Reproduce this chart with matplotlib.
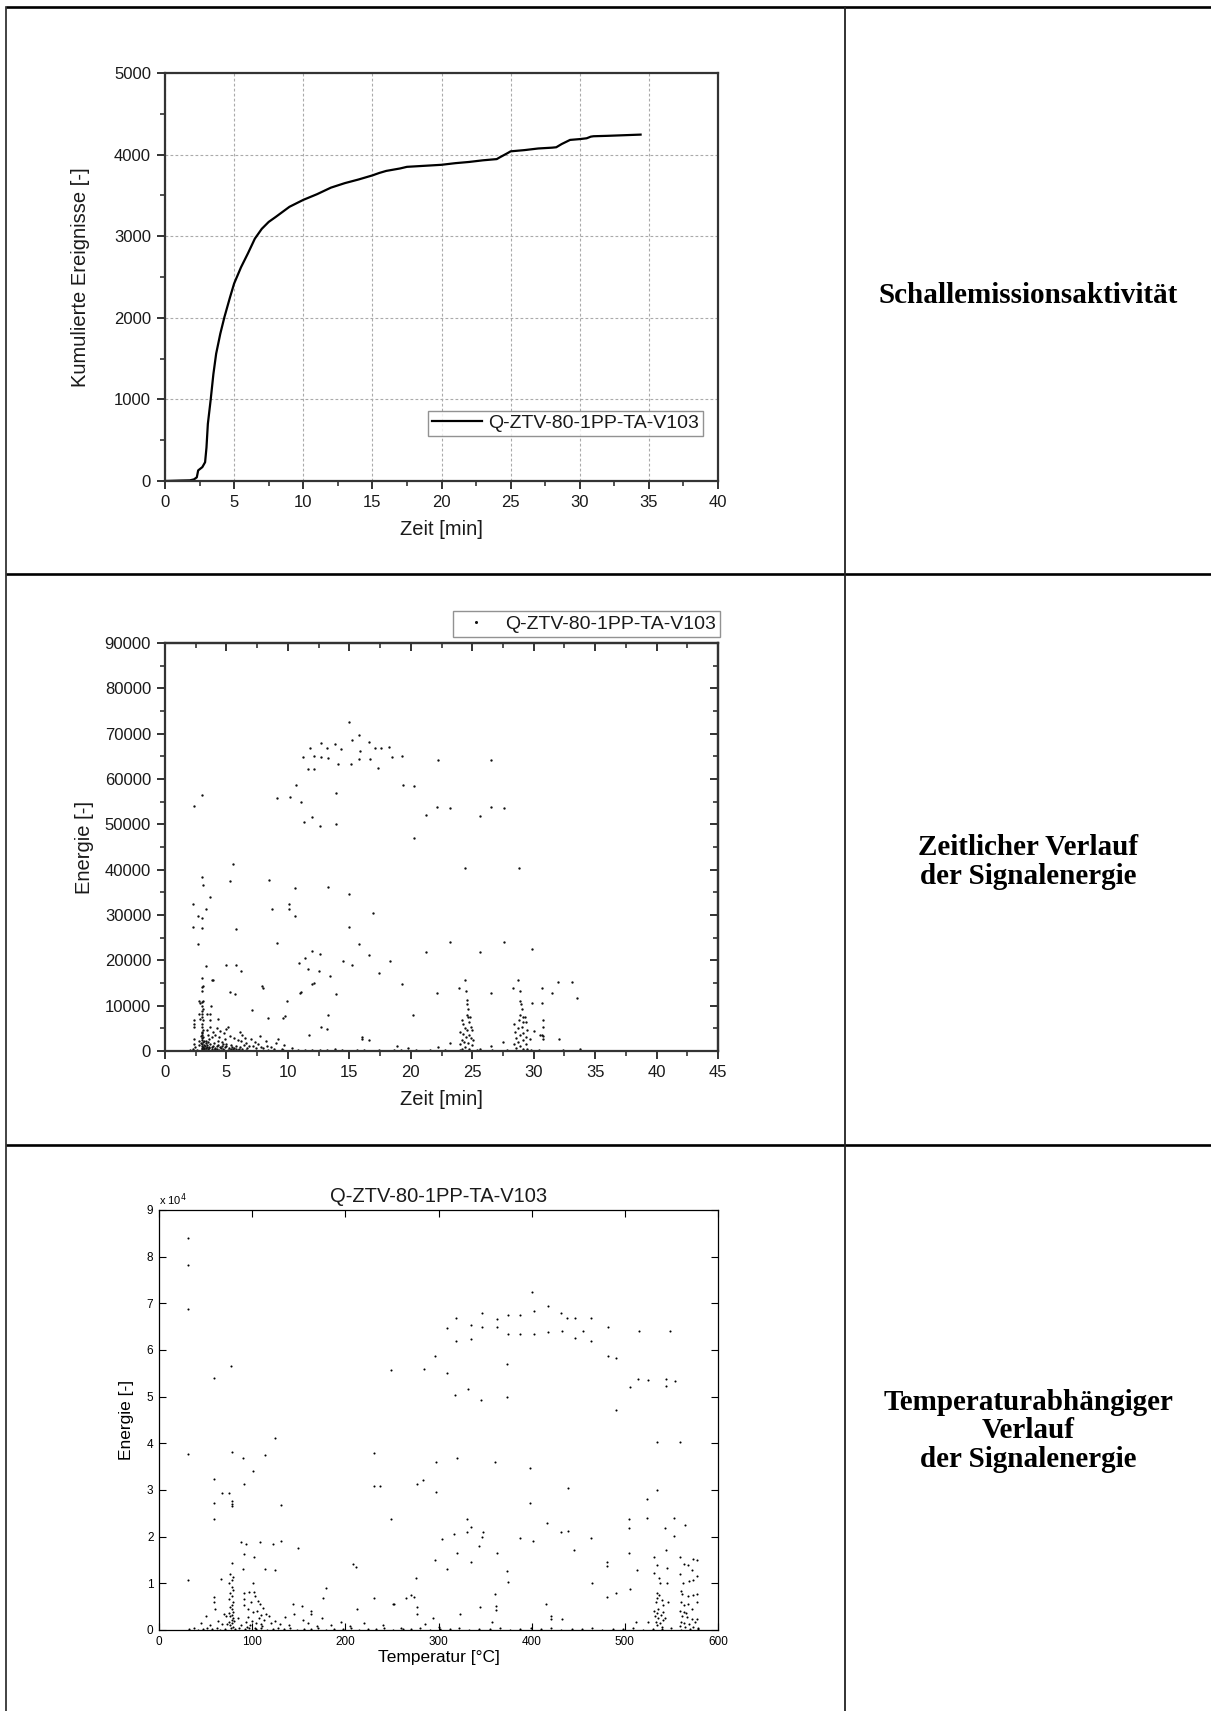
import numpy as np
import matplotlib
matplotlib.use("Agg")
import matplotlib.pyplot as plt
from matplotlib.ticker import MultipleLocator

plt.rcParams['font.family'] = ['Liberation Sans', 'DejaVu Sans']

SERIES = "Q-ZTV-80-1PP-TA-V103"

# ---------------- cumulative acoustic emission events ----------------
t_cum = [0, 1.0, 1.8, 2.1, 2.3, 2.4, 2.7, 2.9, 3.0, 3.1, 3.3, 3.5, 3.7, 4.0, 4.3,
         4.7, 5.0, 5.5, 6.0, 6.5, 7.0, 7.5, 8.0, 9.0, 10, 11, 12, 13, 14, 15,
         15.5, 16, 17, 17.5, 18, 19, 20, 21, 22, 23, 24, 24.2, 24.8, 25, 26, 27,
         28, 28.3, 28.7, 29.3, 30, 30.5, 30.8, 31, 32, 34.4]
events_cum = [0, 5, 8, 20, 45, 130, 170, 230, 410, 700, 990, 1310, 1560, 1805,
              2010, 2250, 2420, 2620, 2790, 2970, 3090, 3175, 3235, 3360, 3445,
              3515, 3595, 3650, 3695, 3745, 3775, 3800, 3830, 3850, 3855, 3865,
              3875, 3895, 3910, 3930, 3945, 3965, 4020, 4040, 4055, 4075, 4085,
              4090, 4130, 4180, 4190, 4200, 4220, 4225, 4230, 4245]

# ---------------- signal energy over time (min, energy) ----------------
energy_time_sparse = [
    (15.0, 72600), (15.8, 69800), (11.8, 66800), (12.7, 68000), (13.2, 66800),
    (13.8, 67800), (14.3, 66700), (15.2, 68700), (15.9, 66100), (16.6, 68100),
    (17.1, 66800), (17.6, 66800), (18.2, 67000), (18.5, 64900), (19.3, 65100),
    (11.2, 64900), (12.1, 65100), (12.7, 64900), (13.3, 64700), (14.1, 63300),
    (15.1, 63300), (15.8, 64400), (16.7, 64400), (17.3, 62500), (11.6, 62100),
    (12.1, 62300), (22.2, 64100), (26.5, 64100), (19.4, 58700), (20.3, 58500),
    (10.7, 58700), (13.9, 57000), (2.4, 54100), (3.0, 56400), (9.1, 55800),
    (10.2, 56000), (11.1, 54900), (22.1, 53900), (23.2, 53500), (26.5, 53800),
    (27.6, 53600), (21.2, 52100), (25.6, 51900), (11.3, 50500), (12.0, 51600),
    (12.6, 49700), (13.9, 50100), (20.3, 46900), (24.4, 40400), (28.8, 40400),
    (5.5, 41200), (5.3, 37600), (3.0, 38300), (3.1, 36600), (3.7, 34000),
    (8.5, 37800), (10.6, 35900), (13.3, 36100), (15.0, 34700), (2.3, 32500),
    (10.1, 32500), (10.1, 31300), (10.6, 29800), (3.3, 31300), (2.7, 29800),
    (3.0, 29400), (8.7, 31300), (16.9, 30500), (2.3, 27300), (3.0, 27100),
    (5.8, 26900), (15.0, 27300), (2.7, 23700), (9.1, 23900), (23.2, 24100),
    (27.6, 24100), (15.8, 23500), (12.0, 22000), (21.2, 21800), (25.6, 21800),
    (29.9, 22600), (12.6, 21400), (10.9, 19500), (14.5, 19800), (15.2, 19000),
    (16.6, 21100), (18.3, 19800), (3.3, 18800), (5.0, 19000), (5.8, 19000),
    (6.2, 17600), (11.6, 18000), (12.5, 17600), (17.4, 17100), (13.4, 16500),
    (12.0, 14800), (19.3, 14800), (3.8, 15700), (3.1, 14400), (8.0, 13900),
    (7.9, 14300), (11.0, 12900), (5.3, 13100), (5.7, 12500), (22.1, 12900),
    (26.5, 12900), (30.7, 13900), (31.5, 12900), (32.0, 15300), (33.1, 15300),
    (33.5, 11800), (29.9, 10600), (30.7, 10600), (9.9, 11100), (20.2, 8000),
    (13.3, 7900), (7.1, 9100), (8.4, 7200), (9.6, 7200), (9.8, 7700),
    (12.7, 5200), (13.2, 4900), (5.0, 4900), (4.3, 7000), (16.0, 3000),
    (16.6, 2400), (30.7, 3600), (32.1, 2600), (11.4, 20600), (12.1, 14900),
    (13.9, 12600), (11.1, 13000), (11.7, 3500), (18.9, 1000), (16.0, 2700),
    (30.8, 6800), (30.8, 5400), (30.8, 3200), (30.8, 2700), (30.0, 4400),
    (30.5, 3500), (29.7, 2700), (27.5, 2000), (33.8, 500), (26.5, 1000),
    (25.6, 500), (23.2, 1800),
]
energy_time_burst_early = [
    (3.0, 16200), (3.05, 14100), (3.0, 13200), (3.1, 11000), (3.0, 10800),
    (3.05, 9900), (3.1, 9300), (3.0, 8900), (3.05, 8200), (3.0, 7500),
    (3.1, 6800), (3.0, 6000), (3.05, 5300), (3.1, 4600), (3.0, 4200),
    (3.05, 3900), (3.0, 3500), (3.1, 3100), (3.05, 2800), (3.0, 2400),
    (3.1, 2000), (3.0, 1600), (3.05, 1200), (3.1, 900), (3.0, 600),
    (3.05, 400), (3.1, 250), (2.95, 1800), (2.95, 3300), (3.15, 2200),
    (3.15, 1400), (3.15, 700), (2.4, 6900), (2.4, 6000), (2.4, 5400),
    (2.4, 2700), (2.4, 1600), (2.45, 900), (2.3, 400), (2.8, 11000),
    (2.85, 10600), (2.8, 8200), (2.85, 7100), (2.8, 2100), (2.75, 1300),
    (3.9, 15600), (3.75, 9900), (3.4, 8200), (3.7, 8200), (3.7, 6800),
    (3.65, 5400), (3.4, 4700), (3.9, 4200), (3.5, 3500), (3.8, 3100),
    (3.6, 2600), (3.3, 2200), (3.5, 1900), (3.7, 1500), (3.4, 1300),
    (3.9, 1100), (3.6, 800), (3.3, 600), (3.8, 500), (3.5, 350),
    (4.2, 5000), (4.5, 4400), (4.8, 3900), (4.1, 3600), (4.4, 3000),
    (4.9, 2700), (5.1, 5200), (5.3, 3400), (5.6, 2900), (5.9, 2400),
    (4.3, 2300), (4.6, 2000), (4.0, 1800), (4.7, 1600), (5.0, 1500),
    (5.4, 1300), (5.8, 1200), (4.2, 1100), (4.5, 900), (4.9, 800),
    (5.2, 700), (5.6, 600), (6.0, 500), (4.1, 400), (4.4, 300),
    (4.8, 250), (5.1, 200), (5.5, 350), (5.9, 250), (6.1, 4200),
    (6.3, 3600), (6.5, 2900), (6.2, 2100), (6.6, 1700), (6.4, 1300),
    (6.8, 1000), (6.1, 800), (6.7, 600), (6.3, 400), (7.0, 2600),
    (7.3, 2000), (7.6, 1500), (7.2, 1100), (7.8, 900), (7.4, 700),
    (8.0, 600), (8.3, 1200), (8.6, 800), (8.9, 500), (9.2, 2700),
    (9.0, 1800), (9.5, 400), (7.7, 3400), (8.2, 2300), (9.7, 1400),
    (10.3, 700), (10.8, 300), (3.2, 500), (3.3, 300), (3.45, 900),
    (3.55, 600), (3.25, 1000), (3.35, 1700), (3.85, 800), (4.05, 700),
    (4.25, 500), (4.35, 1400), (4.55, 600), (4.65, 1200), (4.75, 400),
    (4.95, 1100), (5.35, 500), (5.45, 900), (5.75, 400),
]
energy_time_burst_24 = [
    (24.40, 15600), (23.94, 14000), (24.48, 13200), (24.54, 11200), (24.59, 10300),
    (24.67, 9300), (24.54, 7900), (24.67, 7600), (24.81, 7400), (24.13, 6800),
    (24.21, 6000), (24.76, 6400), (24.86, 5400), (24.40, 5100), (24.59, 4600),
    (24.95, 4600), (23.99, 4200), (24.27, 3800), (24.76, 3500), (24.48, 3100),
    (24.86, 2900), (24.13, 2500), (25.03, 2400), (24.32, 2000), (24.67, 1800),
    (23.99, 1500), (24.95, 1300), (24.40, 900), (24.76, 500), (24.13, 500),
]
energy_time_burst_29 = [
    (28.75, 15600), (28.29, 14000), (28.89, 13200), (28.89, 11000), (28.97, 10300),
    (29.02, 9300), (28.89, 7900), (29.10, 7500), (29.29, 7400), (28.83, 6800),
    (29.16, 6400), (29.38, 6400), (28.40, 6000), (29.02, 5400), (28.75, 5100),
    (29.48, 4700), (28.48, 4200), (29.10, 4000), (28.89, 3500), (29.38, 3100),
    (28.56, 2900), (29.10, 2400), (28.75, 2000), (28.40, 1600), (29.38, 1500),
    (28.89, 1000), (28.56, 700), (29.16, 500), (29.48, 500),
]
energy_time_low = [
    (2.0, 200), (2.2, 100), (2.6, 300), (3.2, 150), (3.6, 100), (4.0, 150),
    (4.6, 100), (5.3, 120), (6.0, 80), (6.6, 150), (7.1, 100), (7.7, 60),
    (8.4, 120), (9.0, 80), (9.6, 150), (10.2, 100), (10.8, 70), (11.4, 200),
    (12.0, 120), (12.6, 300), (13.2, 150), (13.8, 400), (14.4, 200), (15.0, 100),
    (15.6, 300), (16.2, 150), (16.8, 100), (17.4, 200), (18.0, 80), (18.6, 300),
    (19.2, 150), (19.8, 600), (20.4, 200), (21.0, 100), (21.6, 300), (22.2, 900),
    (22.8, 150), (23.4, 100), (24.0, 200), (25.4, 150), (26.0, 100), (26.6, 300),
    (27.2, 80), (27.8, 150), (28.2, 100), (29.8, 200), (30.4, 150), (31.0, 100),
    (31.6, 80), (32.4, 150), (33.0, 100), (33.5, 60),
]

# ---------------- signal energy over temperature (degC, energy x 1e4) ----------------
energy_temp_sparse = [
    (30.8, 8.39), (30.8, 7.83), (30.8, 6.88), (30.8, 3.77), (30.8, 1.07),
    (58.5, 5.41), (58.5, 3.24), (59.4, 2.73), (59.4, 2.37), (77.7, 5.65),
    (78, 3.82), (67.3, 2.94), (75.1, 2.94), (78, 2.77), (78, 2.71), (78, 2.66),
    (90.5, 3.68), (91.6, 3.13), (100.5, 3.41), (114, 3.76), (124.5, 4.12),
    (131, 2.68), (88, 1.89), (93, 1.84), (91.6, 1.62), (102, 1.56), (108, 1.89),
    (122, 1.84), (131, 1.91), (149, 1.76), (114, 1.31), (124.5, 1.29),
    (90.5, 1.31), (67, 1.09), (100.5, 1.0), (59.4, 0.70), (59.4, 0.59),
    (143.5, 0.55), (153, 0.51), (163, 0.41), (163, 0.34), (176, 0.68),
    (179, 0.89), (208.6, 1.41), (211, 1.34), (230.8, 3.79), (230.8, 3.08),
    (237, 3.08), (213, 0.44), (231, 0.69), (252, 0.55), (249, 2.37),
    (248.5, 5.57), (284, 5.59), (276.5, 3.13), (283.3, 3.21), (297, 3.59),
    (297, 2.96), (320, 3.69), (360.6, 3.61), (398.2, 3.48), (398.2, 2.73),
    (439, 3.04), (331, 2.37), (334.6, 2.2), (331, 2.09), (303.4, 1.96),
    (316.7, 2.06), (320, 1.66), (347.4, 2.11), (346.3, 2.0), (343.8, 1.8),
    (363.2, 1.64), (387.5, 1.98), (401.8, 1.91), (416.8, 2.3), (432, 2.11),
    (439, 2.13), (445.9, 1.71), (463.8, 1.98), (464.5, 1.0), (480.4, 1.46),
    (480.4, 1.38), (491, 0.8), (481, 0.71), (504.8, 2.37), (504.8, 2.18),
    (504.8, 1.64), (513.4, 1.29), (505.5, 0.87), (524.2, 2.81), (524.2, 2.39),
    (535, 4.03), (535, 2.99), (559.5, 4.03), (543, 2.18), (543.8, 1.71),
    (552.6, 2.39), (552.6, 2.02), (565, 2.26), (296.2, 1.49), (309.5, 1.31),
    (334.6, 1.46), (374, 1.27), (375, 1.02), (275.8, 1.12), (264.9, 0.68),
    (270.3, 0.75), (273.2, 0.70), (251.5, 0.55), (276.5, 0.50), (276.5, 0.34),
    (294.4, 0.25), (323, 0.34), (345, 0.49), (361, 0.77), (361.5, 0.51),
    (361.5, 0.43), (357, 0.18), (415.2, 0.56), (420.5, 0.29), (420.5, 0.23),
    (432.5, 0.23), (512.5, 0.18), (525, 0.18),
]
energy_temp_arc = [
    (400, 7.24), (418, 6.95), (402, 6.84), (432, 6.80), (438, 6.68), (446, 6.68),
    (464, 6.68), (455, 6.41), (464, 6.20), (446, 6.25), (418, 6.39), (433, 6.40),
    (402, 6.34), (387, 6.34), (375, 6.34), (375, 6.74), (387, 6.74), (363, 6.66),
    (347, 6.80), (335, 6.54), (347, 6.50), (363, 6.50), (319, 6.68), (309, 6.48),
    (335, 6.23), (319, 6.20), (482, 6.50), (482, 5.87), (491, 5.83), (515, 6.40),
    (548, 6.40), (296, 5.87), (309, 5.51), (373, 5.69), (514, 5.37), (525, 5.35),
    (544, 5.37), (554, 5.34), (506, 5.21), (544, 5.22), (318, 5.04), (332, 5.16),
    (346, 4.93), (373, 5.00), (491, 4.72),
]
energy_temp_burst_80 = [
    (78, 1.43), (76.2, 1.21), (79.8, 1.13), (78, 1.07), (75.1, 1.0), (78, 0.93),
    (79.8, 0.86), (76.2, 0.79), (78, 0.73), (75.1, 0.66), (79.8, 0.61), (78, 0.54),
    (76.2, 0.50), (78, 0.44), (79.8, 0.39), (75.1, 0.36), (78, 0.32), (76.2, 0.29),
    (79.8, 0.25), (78, 0.21), (75.1, 0.18), (78, 0.14), (76.2, 0.11), (79.8, 0.07),
    (77, 0.04), (73, 0.12), (81, 0.20), (72, 0.30),
]
energy_temp_burst_100 = [
    (91.6, 0.80), (91.6, 0.66), (91.6, 0.54), (97, 0.82), (102.3, 0.82), (95, 0.45),
    (99, 0.60), (103, 0.72), (105, 0.40), (108, 0.55), (110, 0.33), (112, 0.48),
    (96, 0.28), (100, 0.20), (104, 0.15), (107, 0.25), (109, 0.12), (113, 0.22),
    (115, 0.35), (93, 0.18), (101, 0.38), (106, 0.62), (118, 0.30), (120, 0.16),
    (98, 0.10), (111, 0.08), (94, 0.06), (103, 0.05),
]
energy_temp_scatter_low = [
    (45, 0.15), (50, 0.30), (55, 0.10), (60, 0.45), (63, 0.20), (68, 0.12),
    (70, 0.35), (85, 0.25), (88, 0.10), (125, 0.20), (130, 0.12), (135, 0.28),
    (140, 0.10), (145, 0.35), (155, 0.22), (160, 0.15), (170, 0.08), (175, 0.25),
    (185, 0.10), (195, 0.18), (205, 0.08), (220, 0.15), (240, 0.10), (260, 0.05),
    (285, 0.12), (300, 0.06),
]
energy_temp_burst_535 = [
    (531.3, 1.56), (534.9, 1.39), (531.3, 1.23), (537.0, 1.11), (537.7, 1.00),
    (534.2, 0.79), (537.0, 0.75), (534.9, 0.68), (539.5, 0.64), (533.4, 0.59),
    (541.3, 0.54), (535.9, 0.46), (531.3, 0.41), (540.6, 0.39), (534.2, 0.36),
    (538.4, 0.32), (532.4, 0.29), (535.9, 0.25), (541.3, 0.21), (533.4, 0.18),
    (537.7, 0.14), (534.9, 0.11), (539.5, 0.07), (544.9, 1.32), (544.9, 1.00),
    (546.7, 0.61), (543.1, 0.25),
]
energy_temp_burst_565 = [
    (559.2, 1.56), (563.5, 1.41), (568.1, 1.39), (573.5, 1.53), (577.1, 1.51),
    (571.7, 1.29), (577.1, 1.16), (573.5, 1.07), (569.2, 1.06), (562.1, 1.01),
    (559.2, 1.21), (559.9, 0.84), (561.0, 0.77), (568.1, 0.73), (573.5, 0.75),
    (577.1, 0.77), (559.9, 0.61), (563.5, 0.54), (568.1, 0.56), (571.7, 0.44),
    (577.1, 0.59), (559.2, 0.41), (563.5, 0.39), (565.6, 0.36), (561.0, 0.29),
    (566.4, 0.27), (571.7, 0.23), (577.1, 0.23), (559.9, 0.18), (563.5, 0.16),
    (569.2, 0.13), (575.3, 0.18), (559.2, 0.09), (564.6, 0.07), (573.5, 0.06),
    (578.9, 0.04),
]
energy_temp_low = [
    (32, 0.02), (38, 0.04), (42, 0.01), (47, 0.03), (52, 0.05), (57, 0.02),
    (62, 0.04), (66, 0.01), (71, 0.03), (82, 0.02), (86, 0.05), (92, 0.03),
    (97, 0.04), (104, 0.02), (110, 0.04), (116, 0.01), (122, 0.03), (128, 0.05),
    (134, 0.02), (141, 0.04), (148, 0.01), (156, 0.03), (163, 0.02), (171, 0.04),
    (179, 0.01), (188, 0.03), (197, 0.02), (206, 0.04), (215, 0.01), (224, 0.03),
    (233, 0.02), (242, 0.04), (251, 0.01), (262, 0.03), (271, 0.02), (280, 0.04),
    (291, 0.01), (302, 0.03), (312, 0.02), (322, 0.04), (333, 0.01), (344, 0.03),
    (355, 0.02), (366, 0.04), (377, 0.01), (388, 0.03), (399, 0.05), (410, 0.02),
    (421, 0.04), (432, 0.01), (443, 0.03), (454, 0.02), (465, 0.04), (476, 0.01),
    (487, 0.03), (498, 0.02), (509, 0.04), (520, 0.01), (530, 0.03), (540, 0.02),
    (550, 0.04), (560, 0.01), (570, 0.03), (578, 0.02),
]

row_captions = ["Schallemissionsaktivität",
                "Zeitlicher Verlauf\nder Signalenergie",
                "Temperaturabhängiger\nVerlauf\nder Signalenergie"]

W, H = 1211, 1711
fig = plt.figure(figsize=(W / 100, H / 100), dpi=100)


def fig_rect(left, top, right, bottom):
    return [left / W, 1 - bottom / H, (right - left) / W, (bottom - top) / H]


# table frame
frame = fig.add_axes([0, 0, 1, 1])
frame.set_xlim(0, W)
frame.set_ylim(H, 0)
frame.axis('off')
for yy in (7, 574, 1145):
    frame.plot([6, W], [yy, yy], color='black', lw=1.9, solid_capstyle='butt')
frame.plot([6, 6], [7, H], color='#222222', lw=1.2)
frame.plot([845, 845], [7, H], color='#222222', lw=1.3)

cap_y = [295, 862, 1431]
for txt, yy in zip(row_captions, cap_y):
    frame.text(1028, yy, txt, ha='center', va='center', fontsize=21,
               fontweight='bold', family=['Liberation Serif', 'DejaVu Serif'],
               linespacing=1.08, color='black')

axis_col = '#333333'
text_col = '#1a1a1a'


def origin_style(ax):
    for s in ax.spines.values():
        s.set_linewidth(1.6)
        s.set_color(axis_col)
    ax.tick_params(which='major', direction='out', length=6, width=1.4,
                   color=axis_col, labelsize=12, labelcolor=text_col, pad=4)
    ax.tick_params(which='minor', direction='out', length=3.5, width=1.2,
                   color=axis_col)


# ---- row 1: cumulative events ----
ax1 = fig.add_axes(fig_rect(165, 73, 718, 481))
ax1.plot(t_cum, events_cum, color='black', lw=1.6, label=SERIES)
ax1.set_xlim(0, 40)
ax1.set_ylim(0, 5000)
ax1.xaxis.set_major_locator(MultipleLocator(5))
ax1.xaxis.set_minor_locator(MultipleLocator(2.5))
ax1.yaxis.set_major_locator(MultipleLocator(1000))
ax1.yaxis.set_minor_locator(MultipleLocator(500))
origin_style(ax1)
ax1.grid(True, which='major', linestyle=(0, (2.5, 2)), color='#aaaaaa', lw=0.8)
ax1.set_axisbelow(True)
ax1.set_xlabel('Zeit [min]', fontsize=14.5, color=text_col, labelpad=7)
ax1.set_ylabel('Kumulierte Ereignisse [-]', fontsize=14.5, color=text_col, labelpad=17)
leg1 = ax1.legend(loc='lower right', bbox_to_anchor=(0.973, 0.11), borderaxespad=0,
                  fontsize=14, frameon=True, fancybox=False, borderpad=0.2,
                  handlelength=2.6, handletextpad=0.3)
leg1.get_frame().set_edgecolor('#777777')
leg1.get_frame().set_linewidth(1.0)
for t in leg1.get_texts():
    t.set_color(text_col)

# ---- row 2: energy over time ----
ax2 = fig.add_axes(fig_rect(165, 643, 718, 1051))
dot_kw = dict(linestyle='none', marker='o', ms=1.7, color='#111111', mec='none')
groups_time = [energy_time_sparse, energy_time_burst_early, energy_time_burst_24,
               energy_time_burst_29, energy_time_low]
for i, g in enumerate(groups_time):
    arr = np.array(g, dtype=float)
    ax2.plot(arr[:, 0], arr[:, 1], label=SERIES if i == 0 else None, **dot_kw)
ax2.set_xlim(0, 45)
ax2.set_ylim(0, 90000)
ax2.xaxis.set_major_locator(MultipleLocator(5))
ax2.xaxis.set_minor_locator(MultipleLocator(2.5))
ax2.yaxis.set_major_locator(MultipleLocator(10000))
ax2.yaxis.set_minor_locator(MultipleLocator(5000))
origin_style(ax2)
top2 = ax2.secondary_xaxis('top')
top2.xaxis.set_major_locator(MultipleLocator(5))
top2.xaxis.set_minor_locator(MultipleLocator(2.5))
right2 = ax2.secondary_yaxis('right')
right2.yaxis.set_major_locator(MultipleLocator(10000))
right2.yaxis.set_minor_locator(MultipleLocator(5000))
for sec in (top2, right2):
    sec.tick_params(which='major', direction='in', length=6, width=1.4, color=axis_col,
                    labeltop=False, labelright=False, labelbottom=False, labelleft=False)
    sec.tick_params(which='minor', direction='in', length=3.5, width=1.2, color=axis_col)
    for s in sec.spines.values():
        s.set_linewidth(1.6)
        s.set_color(axis_col)
ax2.set_xlabel('Zeit [min]', fontsize=14.5, color=text_col, labelpad=7)
ax2.set_ylabel('Energie [-]', fontsize=14.5, color=text_col, labelpad=8)
leg2 = ax2.legend(loc='lower right', bbox_to_anchor=(1.004, 1.015), borderaxespad=0,
                  fontsize=14, frameon=True, fancybox=False, borderpad=0.2,
                  handlelength=2.0, handletextpad=0.5, markerscale=1.3)
leg2.get_frame().set_edgecolor('#777777')
leg2.get_frame().set_linewidth(1.0)
for t in leg2.get_texts():
    t.set_color(text_col)

# ---- row 3: energy over temperature ----
ax3 = fig.add_axes(fig_rect(159, 1210, 718, 1630))
dot3_kw = dict(linestyle='none', marker='o', ms=1.5, color='black', mec='none')
groups_temp = [energy_temp_sparse, energy_temp_arc, energy_temp_burst_80,
               energy_temp_burst_100, energy_temp_scatter_low, energy_temp_burst_535,
               energy_temp_burst_565, energy_temp_low]
for g in groups_temp:
    arr = np.array(g, dtype=float)
    ax3.plot(arr[:, 0], arr[:, 1], **dot3_kw)
ax3.set_xlim(0, 600)
ax3.set_ylim(0, 9)
ax3.xaxis.set_major_locator(MultipleLocator(100))
ax3.yaxis.set_major_locator(MultipleLocator(1))
for s in ax3.spines.values():
    s.set_linewidth(0.9)
    s.set_color('black')
ax3.tick_params(direction='in', top=True, right=True, length=5, width=0.8,
                labelsize=8.5, pad=4)
ax3.set_title(SERIES, fontsize=14.5, pad=6, color=text_col)
ax3.text(0.0, 1.004, r'x 10$^4$', transform=ax3.transAxes, fontsize=8,
         ha='left', va='bottom')
ax3.set_xlabel('Temperatur [°C]', fontsize=12.5, labelpad=2)
ax3.set_ylabel('Energie [-]', fontsize=12.5, labelpad=9)

fig.savefig('out.png', dpi=100)
